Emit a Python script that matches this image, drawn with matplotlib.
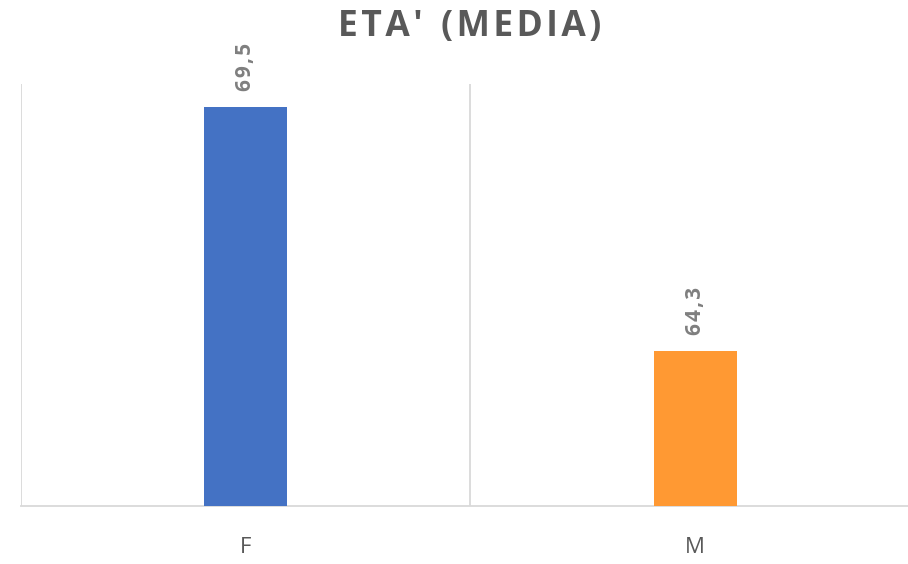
import matplotlib
matplotlib.use("Agg")
import matplotlib.pyplot as plt

# data
categories = ["F", "M"]
values = [69.5, 64.3]
labels = ["69,5", "64,3"]
colors = ["#4472C4", "#FF9933"]
title = "ETA' (MEDIA)"

plt.rcParams['font.family'] = ['Open Sans', 'DejaVu Sans']

HS = "\u200a"  # hair space, used to imitate letter spacing


def spaced(s):
    return HS.join(s)


fig = plt.figure(figsize=(9.08, 5.64), dpi=100)
ax = fig.add_axes([21 / 908, 1 - 506 / 564, 899 / 908, 422 / 564])

x = list(range(len(categories)))
bars = ax.bar(x, [v - 61 for v in values], bottom=61, width=0.185, color=colors, zorder=3)

ax.set_ylim(61, 70)
ax.set_xlim(-0.5, len(categories) - 0.5)

# category separators
for b in [-0.5, 0.5, 1.5]:
    ax.axvline(b, color="#D9D9D9", lw=1.3, zorder=1)

for s in ["top", "right", "left"]:
    ax.spines[s].set_visible(False)
ax.spines["bottom"].set_color("#D9D9D9")
ax.spines["bottom"].set_linewidth(1.3)
ax.set_yticks([])
ax.set_xticks(x)
ax.set_xticklabels(categories, fontsize=16, color="#595959")
ax.tick_params(axis="x", length=0, pad=22)

for rect, lab in zip(bars, labels):
    ax.annotate(spaced(lab), (rect.get_x() + rect.get_width() / 2, rect.get_y() + rect.get_height()),
                xytext=(0, 12), textcoords="offset points", rotation=90,
                ha="center", va="bottom", fontsize=15, fontweight="bold", color="#7F7F7F")

# title is centred on the plot area (which runs past the right edge)
fig.text(470 / 908, 1 - 27 / 564, spaced(title).replace(HS + " " + HS, "  "),
         ha="center", va="center", fontsize=25.5, fontweight="bold", color="#595959")

fig.savefig("out.png", dpi=100)
